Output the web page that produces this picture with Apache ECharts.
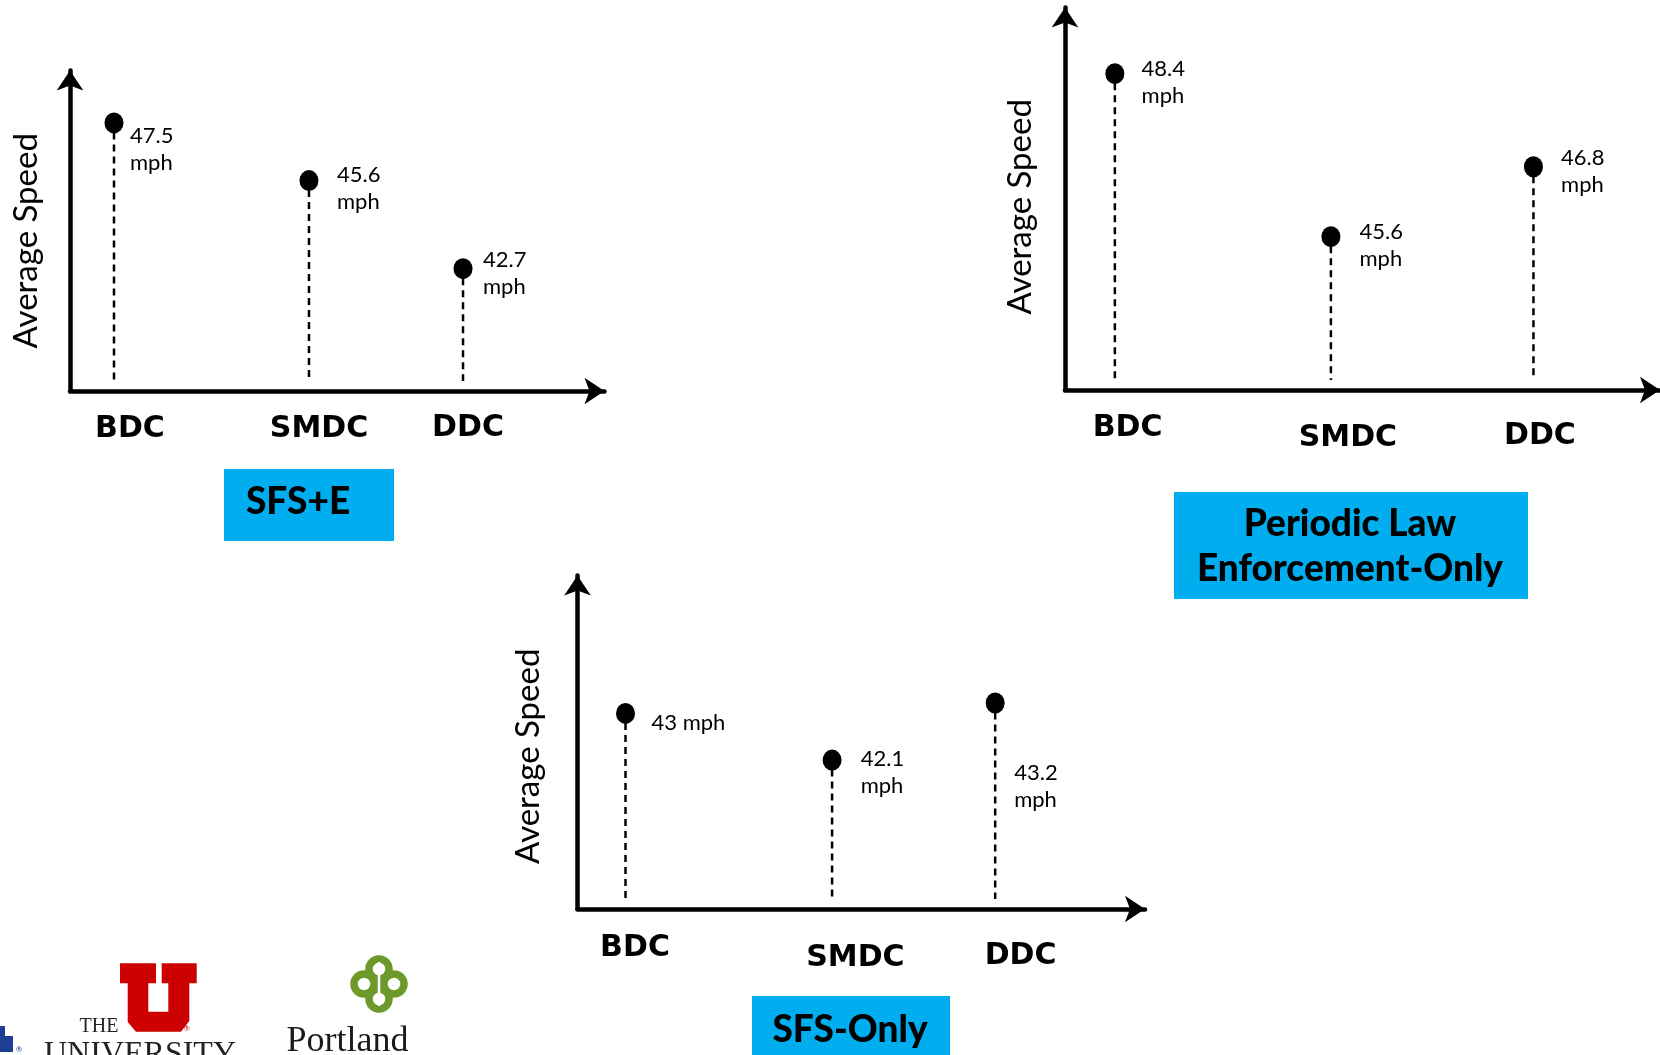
<!DOCTYPE html>
<html>
<head>
<meta charset="utf-8">
<script src="https://cdn.jsdelivr.net/npm/echarts@6/dist/echarts.min.js"></script>
<style>
  html, body { margin: 0; padding: 0; background: #ffffff; }
  #chart { width: 1660px; height: 1055px; }
</style>
</head>
<body>
<div id="chart"></div>
<script>
// ---- Data ----
const categories = ['BDC', 'SMDC', 'DDC'];
const speedsSfsE = [47.5, 45.6, 42.7];
const speedsPeriodic = [48.4, 45.6, 46.8];
const speedsSfsOnly = [43, 42.1, 43.2];
const unit = 'mph';
const axisTitle = 'Average Speed';
const panelNames = ['SFS+E', 'Periodic Law\nEnforcement-Only', 'SFS-Only'];

// ---- Layout of the three lollipop panels ----
const FONT = 'Lato, "Open Sans", "DejaVu Sans", sans-serif';
const HEAVY = '"DejaVu Sans", Lato, sans-serif';
const BOX_BLUE = '#00AEEF';
const DOT_W = 19, DOT_H = 21, LABEL_LH = 27;
const ARROW = [20, 20];

const panels = [
  {
    values: speedsSfsE, title: panelNames[0],
    grid: { left: 70, top: 70.5, width: 534.5, height: 320.5 },
    yRange: [38.67, 49.225],
    slots: [0.0823, 0.4471, 0.7353],
    nameGap: 27, namePad: 20,
    valueLabels: [
      { dx: 16, dy: 13, wrap: true },
      { dx: 28, dy: -5.5, wrap: true },
      { dx: 20, dy: -8.5, wrap: true }
    ],
    catLabels: [[16, 38.5], [10, 38.5], [5, 37.5]],
    box: { x: 224, y: 469, w: 170, h: 72, cx: 298, cy: 502, size: 37 }
  },
  {
    values: speedsPeriodic, title: panelNames[1],
    grid: { left: 1065, top: 7.5, width: 597, height: 382.5 },
    yRange: [42.965, 49.537],
    slots: [0.0838, 0.4469, 0.7873],
    nameGap: 28, namePad: 16,
    valueLabels: [
      { dx: 26.7, dy: -5, wrap: true },
      { dx: 28.6, dy: -4.3, wrap: true },
      { dx: 27.6, dy: -8.5, wrap: true }
    ],
    catLabels: [[12.7, 38], [17, 48], [6.5, 46]],
    box: { x: 1174, y: 492, w: 354, h: 107, cx: 1350, cy: 546.5, size: 37, lh: 44.5 }
  },
  {
    values: speedsSfsOnly, title: panelNames[2],
    grid: { left: 577.5, top: 575.5, width: 567.5, height: 333.5 },
    yRange: [39.233, 45.655],
    slots: [0.0846, 0.4486, 0.7360],
    nameGap: 33, namePad: 28,
    valueLabels: [
      { dx: 26, dy: 10, wrap: false },
      { dx: 28.6, dy: -1, wrap: true },
      { dx: 19, dy: 70, wrap: true }
    ],
    catLabels: [[9.5, 39.5], [23.3, 49.5], [25.4, 47.5]],
    box: { x: 752, y: 996, w: 198, h: 70, cx: 850, cy: 1030, size: 37 }
  }
];

const axisLineStyle = { color: '#000', width: 4.5 };

const grids = [], xAxes = [], yAxes = [], series = [], graphics = [];

panels.forEach((p, i) => {
  grids.push(Object.assign({ containLabel: false }, p.grid));

  xAxes.push({
    type: 'value', gridIndex: i, min: 0, max: 1,
    axisLine: { show: true, onZero: false, symbol: ['none', 'arrow'], symbolSize: ARROW, lineStyle: axisLineStyle },
    axisTick: { show: false }, axisLabel: { show: false }, splitLine: { show: false }
  });

  yAxes.push({
    type: 'value', gridIndex: i, min: p.yRange[0], max: p.yRange[1],
    axisLine: { show: true, onZero: false, symbol: ['none', 'arrow'], symbolSize: ARROW, lineStyle: axisLineStyle },
    axisTick: { show: false }, axisLabel: { show: false }, splitLine: { show: false },
    name: axisTitle, nameLocation: 'middle', nameGap: p.nameGap,
    nameTextStyle: { fontFamily: FONT, fontSize: 33, color: '#000', padding: [0, p.namePad, 0, 0] }
  });

  const points = p.values.map((v, k) => [p.slots[k], v]);
  const yBase = p.yRange[0];

  // dashed stems from the baseline up to each dot
  series.push({
    type: 'custom', xAxisIndex: i, yAxisIndex: i, silent: true, z: 2,
    data: points,
    renderItem: (params, api) => {
      const x = api.value(0), v = api.value(1);
      const top = api.coord([x, v]);
      const bottom = api.coord([x, yBase]);
      return {
        type: 'line',
        shape: { x1: top[0], y1: top[1] + DOT_H / 2 - 1, x2: bottom[0], y2: bottom[1] - 10 },
        style: { stroke: '#000', lineWidth: 2.5, lineDash: [7, 5] }
      };
    }
  });

  // dots with their speed labels
  series.push({
    type: 'scatter', xAxisIndex: i, yAxisIndex: i, silent: true, z: 3,
    symbol: 'circle', symbolSize: [DOT_W, DOT_H],
    itemStyle: { color: '#000', opacity: 1 },
    data: points.map((pt, k) => {
      const lab = p.valueLabels[k];
      return {
        value: pt,
        label: {
          show: true,
          formatter: lab.wrap ? `${p.values[k]}\n${unit}` : `${p.values[k]} ${unit}`,
          position: [lab.dx + DOT_W / 2, lab.dy - LABEL_LH / 2 + DOT_H / 2],
          align: 'left', verticalAlign: 'top',
          fontFamily: FONT, fontSize: 22, lineHeight: LABEL_LH, color: '#000', opacity: 1
        }
      };
    })
  });

  // category names under the horizontal axis
  series.push({
    type: 'scatter', xAxisIndex: i, yAxisIndex: i, silent: true, z: 3, clip: false,
    symbolSize: 1, itemStyle: { color: 'rgba(0,0,0,0)', opacity: 1 },
    data: categories.map((c, k) => ({
      name: c,
      value: [p.slots[k], yBase],
      label: {
        show: true, formatter: '{b}', position: 'inside', offset: p.catLabels[k],
        fontFamily: HEAVY, fontWeight: 'bold', fontSize: 30, color: '#000', opacity: 1
      }
    }))
  });

  // blue caption box
  const b = p.box;
  graphics.push({ type: 'rect', shape: { x: b.x, y: b.y, width: b.w, height: b.h }, style: { fill: BOX_BLUE }, z: 1 });
  graphics.push({
    type: 'text', x: b.cx, y: b.cy, z: 2,
    style: {
      text: p.title, fill: '#000', fontFamily: FONT, fontWeight: 900, fontSize: b.size,
      lineHeight: b.lh || b.size * 1.3, align: 'center', verticalAlign: 'middle'
    }
  });
});

// ---- University logos along the lower left ----
const SERIF = '"Liberation Serif", "DejaVu Serif", serif';
graphics.push(
  // partial blue mark at the page edge
  { type: 'polygon', shape: { points: [[0, 1026], [5, 1026], [5, 1036], [13, 1036], [13, 1052], [0, 1052]] }, style: { fill: '#1c3f94' } },
  { type: 'text', x: 19, y: 1049, style: { text: '®', fontSize: 8, fill: '#1c3f94', fontFamily: FONT, align: 'center', verticalAlign: 'middle' } },
  // block U
  { type: 'polygon', shape: { points: [
      [120, 963.3], [156, 963.3], [156, 983.3], [148.3, 983.3], [148.3, 1011.7], [168.3, 1011.7],
      [168.3, 983.3], [161.7, 983.3], [161.7, 963.3], [196.7, 963.3], [196.7, 983.3], [189.3, 983.3],
      [189.3, 1021], [181, 1031.7], [136, 1031.7], [127.7, 1022], [127.7, 983.3], [120, 983.3]
    ] }, style: { fill: '#cc0000' } },
  { type: 'text', x: 187, y: 1029, style: { text: '®', fontSize: 7, fill: '#cc0000', fontFamily: FONT, align: 'center', verticalAlign: 'middle' } },
  { type: 'text', x: 99, y: 1026.5, style: { text: 'THE', fontFamily: SERIF, fontSize: 20, fill: '#222', align: 'center', verticalAlign: 'middle' } },
  { type: 'text', x: 140, y: 1055, style: { text: 'UNIVERSITY', fontFamily: SERIF, fontSize: 32, fill: '#222', align: 'center', verticalAlign: 'middle' } },
  // knot emblem
  { type: 'circle', shape: { cx: 379, cy: 969, r: 10 }, style: { fill: 'none', stroke: '#6b9a2b', lineWidth: 7.5 } },
  { type: 'circle', shape: { cx: 379, cy: 999, r: 10 }, style: { fill: 'none', stroke: '#6b9a2b', lineWidth: 7.5 } },
  { type: 'circle', shape: { cx: 364, cy: 984, r: 10 }, style: { fill: 'none', stroke: '#6b9a2b', lineWidth: 7.5 } },
  { type: 'circle', shape: { cx: 394, cy: 984, r: 10 }, style: { fill: 'none', stroke: '#6b9a2b', lineWidth: 7.5 } },
  { type: 'rect', shape: { x: 371, y: 976, width: 16, height: 16 }, style: { fill: '#6b9a2b' } },
  { type: 'polyline', shape: { points: [[379, 962], [379, 1006]] }, style: { stroke: '#ffffff', lineWidth: 2.5 } },
  { type: 'text', x: 347.5, y: 1042, style: { text: 'Portland', fontFamily: SERIF, fontSize: 36, fill: '#1a1a1a', align: 'center', verticalAlign: 'middle' } }
);

const chart = echarts.init(document.getElementById('chart'), null, { renderer: 'canvas' });
chart.setOption({
  animation: false,
  backgroundColor: '#ffffff',
  grid: grids,
  xAxis: xAxes,
  yAxis: yAxes,
  series: series,
  graphic: graphics
});
</script>
</body>
</html>
